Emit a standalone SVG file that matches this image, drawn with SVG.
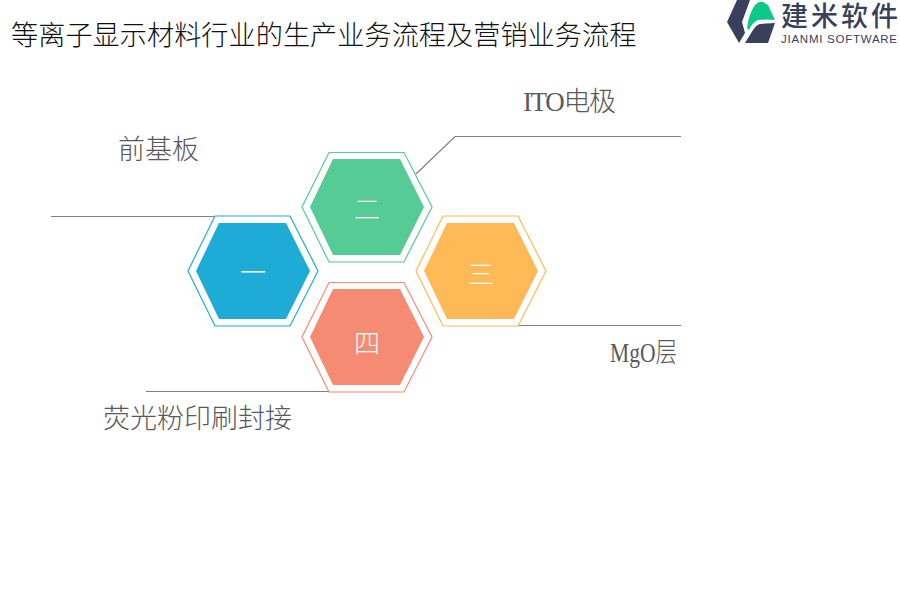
<svg xmlns="http://www.w3.org/2000/svg" width="900" height="600" viewBox="0 0 900 600">
<style>
text{font-family:"Liberation Serif","Noto Sans CJK SC",serif}
.lab{font-size:27px;fill:#595959;font-weight:300}
.num{font-size:26px;fill:#fff;text-anchor:middle;font-weight:300}
.ln{fill:none;stroke:#7f7f7f;stroke-width:1.2}
.o{fill:#fff;stroke-width:1.2}
</style>
<defs>
<polygon id="ho" points="-65,0 -38,-54.5 37,-54.5 65,0 37,55 -38,55"/>
<polygon id="hw" points="-65,0 -38,-55 37,-55 65,0 37,55 -38,55"/>
<polygon id="hi" points="-57,0 -34,-48 33,-48 57,0 33,48 -34,48"/>
</defs>
<rect width="900" height="600" fill="#fff"/>
<text id="title" x="11" y="45" font-size="27.200" fill="#111" font-weight="300">等离子显示材料行业的生产业务流程及营销业务流程</text>
<g id="logo">
<polygon points="737,0 750,0 742,22 745,33 739,43 727,22" fill="#38405c"/>
<path d="M745,43L753,30Q756,25 760,24L775,23L768,43Z" fill="#38405c"/>
<path d="M747,28Q749,13 755,5Q759,1 763,2L768,5L775,20Q768,19 758,20Q752,23 749,30Z" fill="#0ec887"/>
<text x="781" y="26" font-size="27" fill="#38405c" font-weight="500" style="font-family:'Noto Sans CJK SC',sans-serif" textLength="117">建米软件</text>
<text x="781" y="43" font-size="11.500" fill="#38405c" style="font-family:'Liberation Sans',sans-serif" textLength="116">JIANMI SOFTWARE</text>
</g>
<g id="connectors">
<path class="ln" d="M51,216.500H214"/>
<path class="ln" d="M416,174L455,136.500H681"/>
<path class="ln" d="M518,325.500H681"/>
<path class="ln" d="M146,391.500H330"/>
</g>
<g id="node1" transform="translate(253,271)">
<use href="#hw" class="o" stroke="#1eabd5"/><use href="#hi" fill="#1eabd5"/>
<text class="num" y="11">一</text>
</g>
<g id="node2" transform="translate(367,207)">
<use href="#ho" class="o" stroke="#56cb95"/><use href="#hi" fill="#56cb95"/>
<text class="num" y="12">二</text>
</g>
<g id="node3" transform="translate(481,271)">
<use href="#hw" class="o" stroke="#ffb957"/><use href="#hi" fill="#ffb957"/>
<text class="num" y="13">三</text>
</g>
<g id="node4" transform="translate(367,337)">
<use href="#ho" class="o" stroke="#f48b72"/><use href="#hi" fill="#f48b72"/>
<text class="num" y="16">四</text>
</g>
<g id="labels">
<text class="lab" x="118" y="159">前基板</text>
<text class="lab" x="523" y="111" textLength="93">ITO电极</text>
<text class="lab" x="610" y="362" textLength="67" lengthAdjust="spacingAndGlyphs">MgO层</text>
<text class="lab" x="103" y="428">荧光粉印刷封接</text>
</g>
</svg>
